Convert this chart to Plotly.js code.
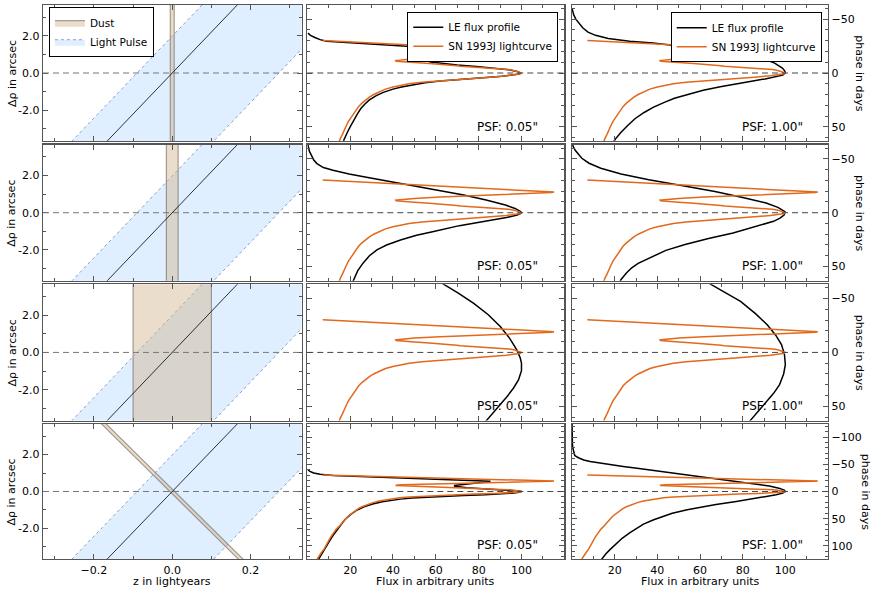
<!DOCTYPE html>
<html><head><meta charset="utf-8">
<script src="https://cdn.plot.ly/plotly-3.0.1.min.js"></script>
<style>html,body{margin:0;padding:0;background:#fff}#chart{width:881px;height:608px}</style>
</head><body><div id="chart"></div>
<script>
// ---------------- data ----------------
// SN 1993J lightcurve (phase in days, flux in arbitrary units)
const lcPhase = [-30.3,-29,-27.5,-26,-24.5,-23,-21.5,-20.3,-19.6,-19.2,-18.7,-18.2,-17.2,-16,-14.5,-13.3,-12.3,-11.6,-11.0,-10.4,-9.7,-8.8,-7.8,-7.3,-6.7,-6.2,-5.2,-4.2,-3.2,-2.4,-1.6,-0.8,0,0.8,1.6,2.6,3.6,4.8,6,7.2,8.6,10,11.5,13,15,17.5,20,22.5,25,28,31,34,37,41,45,49,53,57,61,65,70,76,82,88,94,100,106,112,118,124];
const lcFlux  = [7.2,20,34,49,63,78,92,104,112,115.2,114,107,94,79,62,50,43.5,41.3,41.5,44.5,50,57,66,69,69.8,71.5,80,88,94,96.5,97.5,98.5,100,99.5,97,93,87,78,69,61,53.5,47.5,43,40,36.5,33.5,31,29,27.3,25.5,24,23,21.6,20.3,19.2,18.2,17.4,16.4,15.4,14.6,13.4,12.2,11.2,10.3,9.5,8.7,7.8,6.6,5.6,4.6];

// LE flux profiles, row 1 (thin dust sheet)
const leR1psf005Phase = [-37,-35,-33,-31,-29.5,-28,-26,-24,-22,-20.5,-19.3,-18.5,-17.6,-16.5,-15,-13.5,-12.2,-11.2,-10.2,-9,-7.5,-6,-4.5,-3,-1.5,0,1,2,3,4.5,6,7.5,9,11,13,15,18,21,25,29,33,38,44,50,56,63];
const leR1psf005Flux  = [0.3,1.5,3.5,6,9,20,37,54,70,83,89.5,90,87,80,70,62,57.5,56,57.5,62,70,79,88,94,98,99.5,99,96,91,82,71,62,55,48.5,44,40,35.5,32.2,29,26.8,25,23.4,21.6,20,18.5,16.9];
const leR1psf100Phase = [-60,-57,-54,-50,-46,-42,-38,-35,-32,-29.5,-27.8,-25,-21.6,-19,-16.9,-13,-9.2,-4.6,-2,0,2,3.4,5.5,7.4,10,12.7,16,19.8,23.5,27.5,32,36.7,42.5,49,55,61.4,64];
const leR1psf100Flux  = [0,0.3,0.8,1.8,3.2,5,7.5,11,17,27,38,50,66,76,83,90,95,98.6,99.7,100,98.8,96,90.5,84.8,77,69.5,61.5,54,48,43,38,33.8,29.5,26,23,20.3,19.5];
// row 2 (medium dust sheet)
const leR2psf005Phase = [-64,-61,-57,-53,-49,-45.7,-42,-39.5,-36,-33.3,-29,-25.6,-21,-16.4,-12,-7.1,-4,-1,0.5,2.1,4.5,8.3,12,17.6,21,25.3,30,34.5,40,46.9,54,64];
const leR2psf005Flux  = [0.2,0.5,1,2,3,4.5,7.5,12,19.5,27,39,48,61,73,83,92.5,97,99.7,99.8,98,93,82.5,71,58.5,51,43.5,37,32.5,29,26,23.5,21.3];
const leR2psf100Phase = [-64,-61.4,-58,-54,-50.6,-46,-41.4,-36,-30.6,-25,-19.8,-14,-9,-5,-1,2,5,8,12,15,18.8,24,29.6,35,41.9,47,51.2,56,62,64];
const leR2psf100Flux  = [0.2,0.6,1.5,3,4.6,8,13.5,23,36,52,67,80.5,91,96.5,99.8,99.5,97.5,94.5,87.5,82,75.5,64,53,44,36.5,31,28,25.5,23,22.5];
// row 3 (thick dust sheet)
const leR3psf005Phase = [-64,-55,-45.5,-35,-23.9,-13,-2.3,5,10,17,25.5,33,40.9,48,55,64];
const leR3psf005Flux  = [63,70.5,77.7,84.5,90.2,94.5,97.8,99.4,100,100,98.6,96.3,93.3,90.3,87.3,83.3];
const leR3psf100Phase = [-64,-55,-47.3,-36,-25.7,-16,-7.2,2,11.4,20,29.9,38,45.3,53,64];
const leR3psf100Flux  = [64.3,72.5,79,86,91.5,95.5,98.2,99.6,100,99.2,97.3,94.5,91.5,88,83.2];
// row 4 (inclined thin dust sheet)
const leR4psf005Phase = [-40,-37,-34,-31.5,-29.5,-27.5,-25.5,-23.5,-21.5,-20.2,-19.4,-18.6,-17.6,-16,-14,-12.3,-11,-9.8,-8.5,-7,-5.5,-4,-2.5,-1,0,1.5,3,4.5,6,7.5,9,10.5,12,14,16,19,23,28,34,42,52,64,78,92,107,125];
const leR4psf005Flux  = [0.3,1.2,3,6,12,26,40,55,71,81,85,85.5,83.5,79,74,70,68.5,69,71,74.5,80,88,95,99,100,99,95.5,90,83,73,63,55,49,43.5,39.5,35,30.5,26.5,23.3,20.3,17.5,15,12.5,10.2,7.8,5.2];
const leR4psf100Phase = [-125,-95,-85,-78,-72,-66,-62,-58,-55,-50,-46,-42.7,-38,-33,-27.5,-21,-15.3,-10,-6.1,-2.5,0,3,6,10,14,18.3,24,29,33.5,40,46,51.8,60,68,76.2,86,96,106.8,115,125];
const leR4psf100Flux  = [0,0,0.2,0.5,0.8,1.3,3,5.5,8.5,16,24,30.5,39.5,49.5,61,73.5,84.5,92.5,97,99.5,100,98.8,95.7,90,83.5,77,67.5,60,54,47,42,38.3,33.5,30,27,23.5,20.5,17.8,15.8,13.8];

// geometry of the left column (z in lightyears, delta rho in arcsec)
const pulseEdgeZ = [-0.09, 0.272];      // light-pulse edges at delta rho = 0
const pulseSlope = 22;                  // arcsec per lightyear
const dustHalfWidth = [0.005, 0.015, 0.1, 0.006];
const dustTilt = [0, 0, 0, -0.0478];    // dz per arcsec of the dust sheet

// axes / ticks
const zRange = [-0.33, 0.33];
const zTicks = [-0.2, 0, 0.2];
const rhoRange = [-3.65, 3.65];
const rhoTicks = [-2, 0, 2];
const rhoTickText = ['-2.0', '0.0', '2.0'];
const fluxRange = [0, 120];
const fluxTicks = [20, 40, 60, 80, 100];
const phaseLimit = [63.2, 63.2, 63.2, 124];
const phaseTicks = [[-50,0,50],[-50,0,50],[-50,0,50],[-100,-50,0,50,100]];
const psfLabels = ['PSF: 0.05"', 'PSF: 1.00"'];
const legendNames = {dust:'Dust', pulse:'Light Pulse', le:'LE flux profile', sn:'SN 1993J lightcurve'};

const lePhase = [[leR1psf005Phase, leR1psf100Phase],[leR2psf005Phase, leR2psf100Phase],[leR3psf005Phase, leR3psf100Phase],[leR4psf005Phase, leR4psf100Phase]];
const leFlux  = [[leR1psf005Flux, leR1psf100Flux],[leR2psf005Flux, leR2psf100Flux],[leR3psf005Flux, leR3psf100Flux],[leR4psf005Flux, leR4psf100Flux]];

// ---------------- layout helpers ----------------
const colDom = [[0, 0.3293], [0.3367, 0.6641], [0.6739, 1.0]];
const rowDom = [[0.7545, 1], [0.5023, 0.7478], [0.25, 0.4958], [0, 0.2437]];
const ORANGE = '#e2681c';
const AX = '#555';

function refs(r, c) {
  const i = r * 3 + c + 1;
  const s = i === 1 ? '' : String(i);
  return {x: 'x' + s, y: 'y' + s, xa: 'xaxis' + s, ya: 'yaxis' + s};
}
function baseAxis() {
  return {showline: true, linecolor: AX, linewidth: 1.3, mirror: 'ticks', ticks: 'inside',
          ticklen: 5, tickwidth: 1, tickcolor: AX, showgrid: false, zeroline: false,
          fixedrange: true, tickfont: {size: 11, color: '#000'}};
}

const traces = [];
const legendBox = {bgcolor: 'white', bordercolor: '#000', borderwidth: 1, font: {size: 10.5}, tracegroupgap: 0, itemwidth: 30};
const layout = {
  width: 881, height: 608,
  margin: {l: 43, r: 53, t: 5, b: 49},
  paper_bgcolor: 'white', plot_bgcolor: 'white',
  font: {family: 'DejaVu Sans, sans-serif', size: 11, color: '#000'},
  showlegend: true,
  shapes: [], annotations: [],
  legend:  Object.assign({x: 0.0076, y: 0.996, xanchor: 'left',  yanchor: 'top'}, legendBox),
  legend2: Object.assign({x: 0.6564, y: 0.988, xanchor: 'right', yanchor: 'top'}, legendBox),
  legend3: Object.assign({x: 0.992,  y: 0.987, xanchor: 'right', yanchor: 'top'}, legendBox)
};

const E = rhoRange[1] * 1.2; // drawing extent beyond the visible range (clipped)

for (let r = 0; r < 4; r++) {
  for (let c = 0; c < 3; c++) {
    const R = refs(r, c);
    const xa = baseAxis(), ya = baseAxis();
    xa.domain = colDom[c]; ya.domain = rowDom[r];
    xa.anchor = R.y; ya.anchor = R.x;
    xa.showticklabels = (r === 3);
    if (c === 0) {
      xa.range = zRange; xa.tickmode = 'array'; xa.tickvals = zTicks; xa.tickformat = '.1f';
      xa.minor = {tickmode: 'linear', tick0: 0, dtick: 0.1, ticks: 'inside', ticklen: 3, tickcolor: AX};
      ya.range = rhoRange; ya.tickmode = 'array'; ya.tickvals = rhoTicks; ya.ticktext = rhoTickText;
      ya.minor = {tickmode: 'linear', tick0: 0, dtick: 1, ticks: 'inside', ticklen: 3, tickcolor: AX};
      ya.showticklabels = true;
    } else {
      xa.range = fluxRange; xa.tickmode = 'array'; xa.tickvals = fluxTicks;
      xa.minor = {tickmode: 'linear', tick0: 0, dtick: 10, ticks: 'inside', ticklen: 3, tickcolor: AX};
      ya.range = [phaseLimit[r], -phaseLimit[r]];
      ya.tickmode = 'array'; ya.tickvals = phaseTicks[r];
      ya.minor = {tickmode: 'linear', tick0: 0, dtick: 10, ticks: 'inside', ticklen: 3, tickcolor: AX};
      ya.showticklabels = (c === 2);
      ya.side = (c === 2) ? 'right' : 'left';
    }
    layout[R.xa] = xa; layout[R.ya] = ya;

    // dashed zero line
    layout.shapes.push({type: 'line', xref: R.x + ' domain', x0: 0, x1: 1, yref: R.y, y0: 0, y1: 0,
      line: {color: c === 0 ? '#777' : '#444', width: 1, dash: '6px,4px'}, layer: 'above'});

    if (c === 0) {
      const e0 = pulseEdgeZ[0], e1 = pulseEdgeZ[1], s = pulseSlope;
      traces.push({type: 'scatter', mode: 'lines', xaxis: R.x, yaxis: R.y,
        x: [e0 - E / s, e0 + E / s, e1 + E / s, e1 - E / s, e0 - E / s], y: [-E, E, E, -E, -E],
        fill: 'toself', fillcolor: 'rgba(30,144,255,0.14)',
        line: {color: 'rgba(70,100,160,0.75)', width: 0.8, dash: 'dot'},
        name: legendNames.pulse, legend: 'legend', legendrank: 2, showlegend: r === 0, hoverinfo: 'skip'});
      const w = dustHalfWidth[r], t = dustTilt[r];
      traces.push({type: 'scatter', mode: 'lines', xaxis: R.x, yaxis: R.y,
        x: [t * -E - w, t * E - w, t * E + w, t * -E + w, t * -E - w], y: [-E, E, E, -E, -E],
        fill: 'toself', fillcolor: 'rgba(210,180,140,0.45)',
        line: {color: 'rgba(110,100,90,0.6)', width: 1.2},
        name: legendNames.dust, legend: 'legend', legendrank: 1, showlegend: r === 0, hoverinfo: 'skip'});
      traces.push({type: 'scatter', mode: 'lines', xaxis: R.x, yaxis: R.y,
        x: [-E / s, E / s], y: [-E, E], line: {color: '#000', width: 0.8},
        showlegend: false, hoverinfo: 'skip'});
      layout.annotations.push({xref: 'paper', x: -0.0395, yref: R.y + ' domain', y: 0.5,
        text: 'Δρ in arcsec', textangle: -90, showarrow: false, font: {size: 11}, xanchor: 'center', yanchor: 'middle'});
      if (r === 3) layout.annotations.push({xref: R.x + ' domain', x: 0.5, yref: R.y + ' domain', y: -0.165,
        text: 'z in lightyears', showarrow: false, font: {size: 11}, xanchor: 'center', yanchor: 'middle'});
    } else {
      const lg = c === 1 ? 'legend2' : 'legend3';
      traces.push({type: 'scatter', mode: 'lines', xaxis: R.x, yaxis: R.y,
        x: leFlux[r][c - 1], y: lePhase[r][c - 1], line: {color: '#000', width: 1.5},
        name: legendNames.le, legend: lg, showlegend: r === 0, hoverinfo: 'skip'});
      traces.push({type: 'scatter', mode: 'lines', xaxis: R.x, yaxis: R.y,
        x: lcFlux, y: lcPhase, line: {color: ORANGE, width: 1.5},
        name: legendNames.sn, legend: lg, showlegend: r === 0, hoverinfo: 'skip'});
      layout.annotations.push({xref: R.x + ' domain', x: c === 1 ? 0.905 : 0.909, yref: R.y + ' domain', y: 0.105,
        text: psfLabels[c - 1], showarrow: false, font: {size: 12}, xanchor: 'right', yanchor: 'middle'});
      if (r === 3) layout.annotations.push({xref: R.x + ' domain', x: 0.5, yref: R.y + ' domain', y: -0.165,
        text: 'Flux in arbitrary units', showarrow: false, font: {size: 11}, xanchor: 'center', yanchor: 'middle'});
      if (c === 2) layout.annotations.push({xref: R.x + ' domain', x: r === 3 ? 1.147 : 1.124, yref: R.y + ' domain', y: 0.5,
        text: 'phase in days', textangle: 90, showarrow: false, font: {size: 11}, xanchor: 'center', yanchor: 'middle'});
    }
  }
}

Plotly.newPlot('chart', traces, layout, {staticPlot: true, displayModeBar: false});
</script>
</body></html>
